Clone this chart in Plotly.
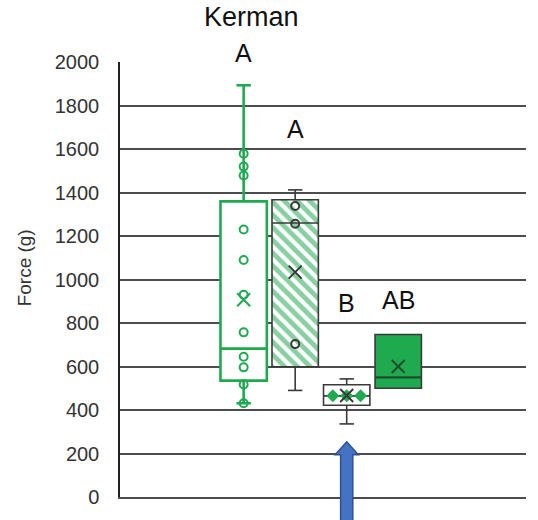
import plotly.graph_objects as go

# Four treatment groups measured at Kerman, with significance letters
groups = ["T1", "T2", "T3", "T4"]
letters = ["A", "A", "B", "AB"]
letter_y = [2040, 1690, 890, 905]

# Box statistics (g)
q1 = [535, 599, 422, 500]
median = [682, 1260, 465, 550]
q3 = [1359, 1367, 516, 747]
lower = [431, 490, 336, 500]
upper = [1893, 1412, 543, 747]
mean = [907, 1034, 467, 600]

# Individual observations shown inside the boxes
points = [
    [1578, 1519, 1478, 1230, 1090, 930, 757, 645, 596, 517, 431],
    [1338, 1256, 703],
    [],
    [],
]

tick_vals = [0, 200, 400, 600, 800, 1000, 1200, 1400, 1600, 1800, 2000]
Y_MAX = 2000

GREEN = "#1faa4f"
DARK = "#3a3a3a"
FONT = "Liberation Sans, Arial, sans-serif"

BOX_W = 0.9
CAP_W = 0.28
xpos = list(range(len(groups)))

styles = [
    dict(fill="white", line=GREEN, lw=2.6, pattern="", accent=GREEN),
    dict(fill="white", line=DARK, lw=1.6, pattern="\\", accent=DARK),
    dict(fill="white", line=DARK, lw=1.6, pattern="", accent=DARK),
    dict(fill=GREEN, line=DARK, lw=1.6, pattern="", accent="#1d4d2a"),
]

fig = go.Figure()

for i, g in enumerate(groups):
    st = styles[i]
    x = xpos[i]
    marker = dict(color=st["fill"], line=dict(color=st["line"], width=st["lw"]))
    if st["pattern"]:
        marker["pattern"] = dict(shape=st["pattern"], fgcolor="#12a044", bgcolor="white",
                                 size=9, solidity=0.55)
    fig.add_trace(go.Bar(x=[x], y=[q3[i] - q1[i]], base=[q1[i]], width=BOX_W,
                         marker=marker, name=g, showlegend=False, hoverinfo="skip"))

    # whiskers with end caps
    wcol = GREEN if i == 0 else DARK
    wx, wy = [], []
    if upper[i] > q3[i]:
        wx += [x, x, None, x - CAP_W / 2, x + CAP_W / 2, None]
        wy += [q3[i], upper[i], None, upper[i], upper[i], None]
    if lower[i] < q1[i]:
        wx += [x, x, None, x - CAP_W / 2, x + CAP_W / 2, None]
        wy += [q1[i], lower[i], None, lower[i], lower[i], None]
    if wx:
        fig.add_trace(go.Scatter(x=wx, y=wy, mode="lines",
                                 line=dict(color=wcol, width=st["lw"]),
                                 showlegend=False, hoverinfo="skip"))

    # median line
    mcol = GREEN if i == 0 else st["accent"]
    fig.add_trace(go.Scatter(x=[x - BOX_W / 2, x + BOX_W / 2], y=[median[i], median[i]],
                             mode="lines", line=dict(color=mcol, width=st["lw"] if i != 3 else 2.2),
                             showlegend=False, hoverinfo="skip"))

# diamond fill motif of the third box, along its median
dx = [-0.27, 0.0, 0.27]
fig.add_trace(go.Scatter(x=[xpos[2] + d for d in dx], y=[median[2]] * len(dx), mode="markers",
                         marker=dict(symbol="diamond", size=10, color=GREEN),
                         showlegend=False, hoverinfo="skip"))

# observations
for i, pts in enumerate(points):
    if not pts:
        continue
    col = GREEN if i == 0 else DARK
    fig.add_trace(go.Scatter(x=[xpos[i]] * len(pts), y=pts, mode="markers",
                             marker=dict(symbol="circle-open", size=8, color=col,
                                         line=dict(width=2, color=col)),
                             showlegend=False, hoverinfo="skip"))

# means
for i in range(len(groups)):
    col = GREEN if i == 0 else ("#1d4d2a" if i == 3 else DARK)
    fig.add_trace(go.Scatter(x=[xpos[i]], y=[mean[i]], mode="markers",
                             marker=dict(symbol="x-thin-open", size=13,
                                         line=dict(width=2, color=col), color=col),
                             showlegend=False, hoverinfo="skip"))

# significance letters (placed on the axis domain so the top one may sit above the grid)
for i, lt in enumerate(letters):
    fig.add_annotation(x=xpos[i], y=letter_y[i] / Y_MAX, text=lt, showarrow=False,
                       xref="x", yref="y domain", xanchor="center", yanchor="middle",
                       font=dict(family=FONT, size=25, color="#111"))

fig.add_annotation(text="Kerman", x=0.325, y=1.103, xref="paper", yref="paper",
                   showarrow=False, xanchor="center", yanchor="middle",
                   font=dict(family=FONT, size=27, color="#111"))
fig.add_annotation(text="Force (g)", x=-0.236, y=0.526, xref="paper", yref="paper",
                   showarrow=False, textangle=-90, xanchor="center", yanchor="middle",
                   font=dict(family=FONT, size=19, color="#333"))

# blue arrow pointing at the third box
ax = xpos[2]
sw, hw = 0.118, 0.225
tip, hb, bot = 0.127, 0.097, -0.08
path = (f"M {ax},{tip} L {ax + hw},{hb} L {ax + sw},{hb} L {ax + sw},{bot} "
        f"L {ax - sw},{bot} L {ax - sw},{hb} L {ax - hw},{hb} Z")
fig.add_shape(type="path", path=path, xref="x", yref="paper",
              fillcolor="#4472c4", line=dict(color="#2f528f", width=1.5), layer="above")

fig.update_layout(
    width=538, height=520,
    margin=dict(l=120, r=12, t=62, b=17),
    paper_bgcolor="white", plot_bgcolor="white",
    barmode="overlay",
    font=dict(family=FONT),
    xaxis=dict(range=[-2.40, 5.48], showgrid=False, zeroline=False, showticklabels=False,
               ticks="", showline=True, linecolor="#4d4d4d", linewidth=1.5, fixedrange=True),
    yaxis=dict(range=[0, Y_MAX], tickvals=tick_vals, showgrid=True, gridcolor="#4d4d4d",
               gridwidth=1.5, zeroline=False, showline=True, linecolor="#222", linewidth=1.5,
               ticks="outside", ticklen=15, tickcolor="rgba(0,0,0,0)",
               tickfont=dict(family=FONT, size=20, color="#333")),
)

fig.write_html("out.html")
